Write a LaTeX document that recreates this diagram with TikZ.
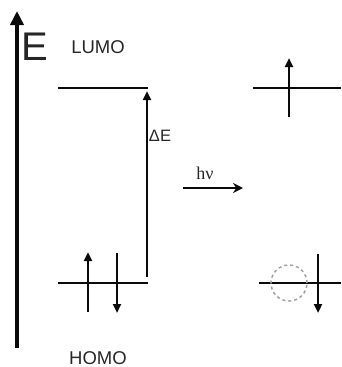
\documentclass[tikz,border=0pt]{standalone}
\usepackage{fontspec}
\setmainfont{Liberation Sans}
\newfontfamily\greekface{Liberation Serif}
\usetikzlibrary{arrows.meta, positioning}
\definecolor{levelink}{HTML}{0A0A0A}
\definecolor{labelink}{HTML}{262626}
\definecolor{holegray}{HTML}{A0A0A0}
\tikzset{
  axis/.style={-{Triangle[length=14pt, width=13pt]}, line width=4.6pt, draw=levelink},
  level/.style={line width=2.9pt, draw=levelink},
  spin/.style={-{Triangle[length=9pt, width=8pt]}, line width=2.8pt, draw=levelink},
  gap/.style={-{Triangle[length=9pt, width=8pt]}, line width=2.4pt, draw=levelink},
  light/.style={-{Stealth[length=10pt, width=10pt]}, line width=2.4pt, draw=levelink},
  hole/.style={circle, draw=holegray, dashed, line width=1.5pt, minimum size=36pt, inner sep=0pt},
  lbl/.style={font=\fontsize{18.5}{20}\selectfont, text=labelink, inner sep=0pt},
  biglbl/.style={font=\fontsize{40}{40}\selectfont, text=labelink, inner sep=0pt},
}

\begin{document}
\begin{tikzpicture}[x=1pt, y=-1pt]
  \useasboundingbox (0,0) rectangle (341,367);

  % energy axis and labels
  \coordinate (axbot) at (17,348);
  \coordinate (axtop) at (17,11);
  \draw[axis] (axbot) -- (axtop);
  \node[biglbl] (elbl) at (35,47) {E};
  \node[lbl] (lumolbl) at (98,47) {LUMO};
  \node[lbl] (homolbl) at (98,358) {HOMO};

  % ground state
  \coordinate (lumoL) at (58,88);
  \coordinate (lumoR) at (148,88);
  \coordinate (homoL) at (58,283);
  \coordinate (homoR) at (148,283);
  \draw[level] (lumoL) -- (lumoR);
  \draw[level] (homoL) -- (homoR);
  \coordinate (upA) at (88,312);
  \coordinate (upB) at (88,252);
  \coordinate (dnA) at (117,253);
  \coordinate (dnB) at (117,313);
  \draw[spin] (upA) -- (upB);
  \draw[spin] (dnA) -- (dnB);

  % gap
  \coordinate (gapbot) at (147,277);
  \coordinate (gaptop) at (147,91);
  \draw[gap] (gapbot) -- (gaptop);
  \node[font=\fontsize{16.5}{18}\selectfont, text=labelink, inner sep=0pt] (gaplbl) at (160,136) {ΔE};

  % excitation
  \coordinate (hvL) at (183,188);
  \coordinate (hvR) at (243,188);
  \draw[light] (hvL) -- (hvR);
  \node[font=\greekface\fontsize{18}{20}\selectfont, text=labelink, inner sep=0pt] (hvlbl) at (205,173) {hν};

  % excited state
  \coordinate (xlumoL) at (253,88);
  \coordinate (xlumoR) at (341,88);
  \coordinate (xhomoL) at (259,283);
  \coordinate (xhomoR) at (341,283);
  \draw[level] (xlumoL) -- (xlumoR);
  \draw[level] (xhomoL) -- (xhomoR);
  \coordinate (xupA) at (289,117);
  \coordinate (xupB) at (289,58);
  \draw[spin] (xupA) -- (xupB);
  \node[hole] (xhole) at (289,283) {};
  \coordinate (xdnA) at (318,254);
  \coordinate (xdnB) at (318,313);
  \draw[spin] (xdnA) -- (xdnB);
\end{tikzpicture}
\end{document}
